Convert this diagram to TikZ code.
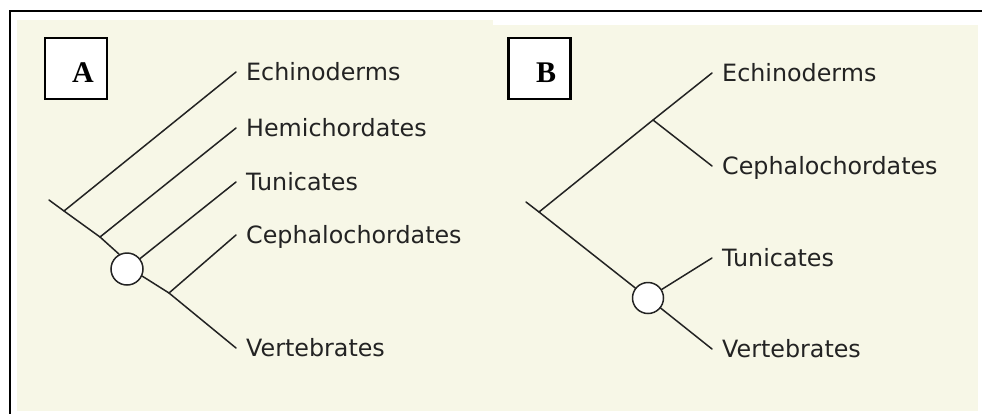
\documentclass[tikz,border=0pt]{standalone}
\usepackage{fontspec}
\setmainfont{DejaVu Sans}
\newfontfamily\boxfont{Liberation Serif}
\definecolor{cream}{HTML}{F7F7E7}
\definecolor{inkc}{HTML}{232323}
\begin{document}
\begin{tikzpicture}[x=1pt,y=-1pt,
  branch/.style={line width=1.5pt, draw=inkc, line cap=round, line join=round},
  taxon/.style={anchor=west, inner ysep=0pt, inner xsep=10pt, text=inkc,
    font=\fontsize{23.8}{28}\selectfont, text height=17.4pt, text depth=0pt},
  knot/.style={circle, draw=inkc, fill=white, line width=1.5pt, minimum size=#1, inner sep=0pt},
  lbox/.style={draw=black, fill=white, line width=2.5pt, minimum width=62pt, minimum height=61pt, inner sep=0pt},
  letter/.style={inner sep=0pt, font=\boxfont\bfseries\fontsize{30}{33}\selectfont, text height=19.8pt, text depth=0pt}
]
\useasboundingbox (0,0) rectangle (982,413);
% backgrounds
\fill[cream] (17,20) rectangle (493,411);
\fill[cream] (493,25) rectangle (978,411);
% frame
\draw[line width=2pt, line cap=rect] (10,413) -- (10,10.5) -- (982,10.5);

% ---------- Panel A ----------
\node[lbox] (boxA) at (76,68.5) {};
\node[letter] (letA) at (83,72.5) {A};

\coordinate (rootA) at (49,200);
\coordinate (jA1) at (64,211);
\coordinate (jA2) at (100,237);
\coordinate (jA3) at (169,293);
\node[knot=32pt] (nA) at (127,269) {};

\node[taxon] (eA) at (236,72) {Echinoderms};
\node[taxon] (hA) at (236,128) {Hemichordates};
\node[taxon] (tA) at (236,182) {Tunicates};
\node[taxon] (cA) at (236,235) {Cephalochordates};
\node[taxon] (vA) at (236,348) {Vertebrates};

\draw[branch] (rootA) -- (jA1) -- (jA2) -- (nA.118);
\draw[branch] (nA.-25) -- (jA3) -- (vA.west);
\draw[branch] (jA1) -- (eA.west);
\draw[branch] (jA2) -- (hA.west);
\draw[branch] (nA) -- (tA.west);
\draw[branch] (jA3) -- (cA.west);

% ---------- Panel B ----------
\node[lbox] (boxB) at (539.5,68.5) {};
\node[letter] (letB) at (546,72.5) {B};

\coordinate (rootB) at (526,202);
\coordinate (jB1) at (539,212);
\coordinate (jB2) at (653,120);
\node[knot=31pt] (nB) at (648,298) {};

\node[taxon] (eB) at (712,73) {Echinoderms};
\node[taxon] (cB) at (712,166) {Cephalochordates};
\node[taxon] (tB) at (712,258) {Tunicates};
\node[taxon] (vB) at (712,349) {Vertebrates};

\draw[branch] (rootB) -- (jB1) -- (nB);
\draw[branch] (jB1) -- (jB2) -- (eB.west);
\draw[branch] (jB2) -- (cB.west);
\draw[branch] (nB) -- (tB.west);
\draw[branch] (nB) -- (vB.west);
\end{tikzpicture}
\end{document}
